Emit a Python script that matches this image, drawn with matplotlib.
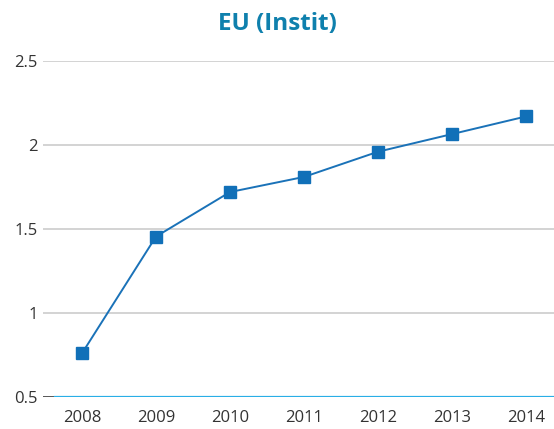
import matplotlib.pyplot as plt

years = ["2008", "2009", "2010", "2011", "2012", "2013", "2014"]
values = [0.76, 1.455, 1.72, 1.81, 1.96, 2.065, 2.17]
yticks = [0.5, 1, 1.5, 2, 2.5]
ytick_labels = ["0.5", "1", "1.5", "2", "2.5"]

plt.rcParams["font.family"] = ["Open Sans", "DejaVu Sans"]

fig = plt.figure(figsize=(5.54, 4.29), dpi=100)
ax = fig.add_axes([43 / 554, 1 - 397 / 429, 1 - 43 / 554, (397 - 61) / 429])

x = list(range(len(years)))
ax.plot(x, values, color="#1a72b8", lw=1.4, marker="s", ms=8.5,
        mfc="#1170b8", mec="#1170b8", zorder=3)

ax.set_xlim(-0.527, 6.378)
ax.set_ylim(0.5, 2.5)
ax.set_yticks(yticks)
ax.set_yticklabels(ytick_labels)
ax.set_xticks(x)
ax.set_xticklabels(years)
ax.grid(axis="y", color="#cccccc", lw=1.2)
ax.set_axisbelow(True)
for s in ax.spines.values():
    s.set_visible(False)
ax.tick_params(length=0, labelsize=12, colors="#333333")
ax.tick_params(axis="y", pad=4)
ax.tick_params(axis="x", pad=9)

# baseline: dark stub then light blue line
ax.axhline(0.5, xmin=0, xmax=12 / 511, color="#333333", lw=1.8, zorder=4)
ax.axhline(0.5, xmin=12 / 511, xmax=1, color="#2aaee6", lw=1.6, zorder=4)

fig.text(0.5, 1 - 24 / 429, "EU (Instit)", ha="center", va="center",
         fontsize=17.5, fontweight="bold", color="#0f80ad")

fig.savefig("out.png", dpi=100)
